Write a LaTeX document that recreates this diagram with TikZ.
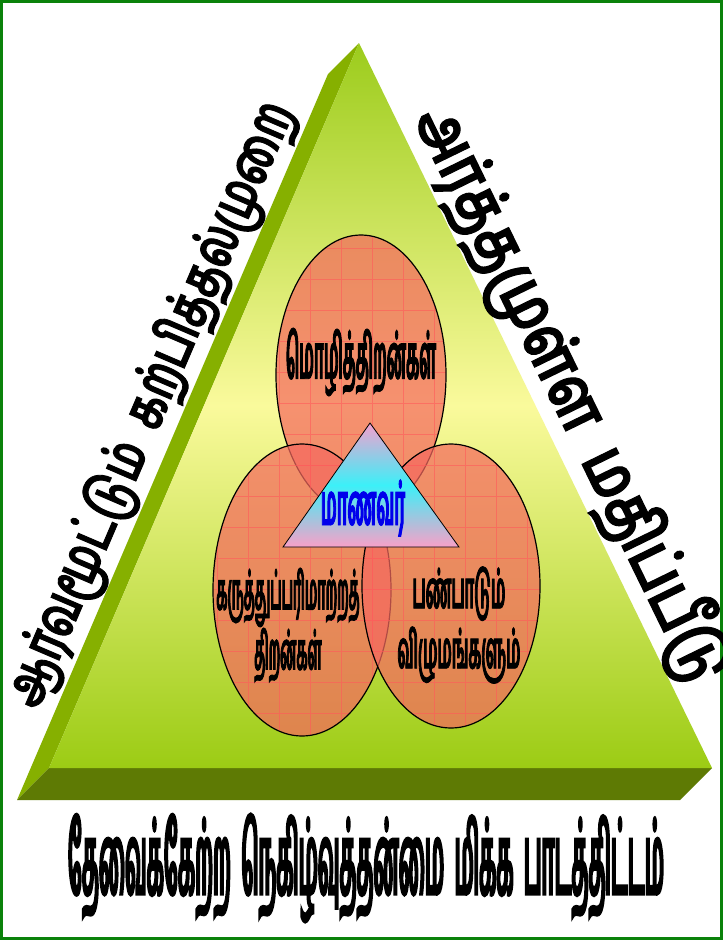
\documentclass[tikz,border=0pt]{standalone}
\usepackage{fontspec}
\newfontfamily\tamilbubble[Script=Tamil,FakeStretch=0.3,FakeBold=1.5]{Hind Madurai}
\newfontfamily\tamilnarrow[Script=Tamil,FakeStretch=0.26,FakeBold=1.5]{Hind Madurai}
\newfontfamily\tamilbase[Script=Tamil,FakeStretch=0.21,FakeBold=1.5]{Hind Madurai}
\newfontfamily\tamilside[Script=Tamil,FakeStretch=0.7,FakeBold=1.5]{Hind Madurai}
\newfontfamily\tamilwide[Script=Tamil,FakeStretch=0.8,FakeBold=1.5]{Hind Madurai}
\usetikzlibrary{positioning,calc}
\definecolor{framegreen}{RGB}{10,130,10}
\definecolor{pyrtop}{RGB}{156,204,28}
\definecolor{pyrmid}{RGB}{250,250,156}
\definecolor{pyrbot}{RGB}{156,204,20}
\definecolor{pyrside}{RGB}{134,176,0}
\definecolor{pyrbase}{RGB}{94,122,4}
\definecolor{ellred}{RGB}{245,105,95}
\definecolor{gridred}{RGB}{255,90,90}
\definecolor{tripink}{RGB}{244,160,208}
\definecolor{tricyan}{RGB}{60,240,248}
\definecolor{tribot}{RGB}{248,160,200}
\definecolor{pupilblue}{RGB}{0,0,235}

\begin{document}
\begin{tikzpicture}[x=1pt,y=-1pt,
 gridline/.style={gridred, line width=0.8pt, opacity=0.6},
 bubbletext/.style={font=\tamilbubble\bfseries\fontsize{52}{60}\selectfont, inner sep=0pt, align=center},
 sidetext/.style={font=\tamilside\bfseries\fontsize{57}{57}\selectfont, inner sep=0pt}]
 \useasboundingbox (0,0) rectangle (723,940);
 \fill[white] (0,0) rectangle (723,940);
 \draw[framegreen, line width=3pt] (1.5,1.5) rectangle (721.5,938.5);
 % pyramid: front face and the extruded side and base
 \coordinate (apex) at (359,43);
 \coordinate (fl) at (49,768);
 \coordinate (fr) at (712,768);
 \coordinate (apexb) at (328,74);
 \coordinate (flb) at (17,800);
 \coordinate (frb) at (680,800);
 \fill[pyrside] (apex) -- (apexb) -- (flb) -- (fl) -- cycle;
 \fill[pyrbase] (fl) -- (fr) -- (frb) -- (flb) -- cycle;
 \shade[top color=pyrtop, bottom color=pyrbot, middle color=pyrmid] (apex) -- (fl) -- (fr) -- cycle;
 % the three skills
 \coordinate (ctop) at (361,375);
 \coordinate (cleft) at (302,590);
 \coordinate (cright) at (451,586);
 \foreach \c/\rx/\ry in {ctop/85/140, cleft/89/146, cright/89/142} {
  \begin{scope}
   \clip (\c) ellipse [x radius=\rx pt, y radius=\ry pt];
   \fill[ellred, opacity=0.72] (\c) ellipse [x radius=\rx pt, y radius=\ry pt];
   \draw[gridline] (186,217) grid[step=31pt] (620,775);
  \end{scope}
  \draw[line width=1.2pt] (\c) ellipse [x radius=\rx pt, y radius=\ry pt];
 }
 % pupil in the middle
 \coordinate (ta) at (370,423);
 \coordinate (tl) at (283,547);
 \coordinate (tr) at (459,547);
 \shade[top color=tripink, bottom color=tribot, middle color=tricyan] (ta) -- (tl) -- (tr) -- cycle;
 \draw[line width=0.8pt] (ta) -- (tl) -- (tr) -- cycle;
 \node[bubbletext, text=pupilblue, font=\tamilbubble\bfseries\fontsize{58}{58}\selectfont] (pupil) at (363,508) {மாணவர்};
 \node[bubbletext, font=\tamilnarrow\bfseries\fontsize{62}{62}\selectfont] (lang) at (361,362) {மொழித்திறன்கள்};
 \node[bubbletext, font=\tamilnarrow\bfseries\fontsize{52}{60}\selectfont] (comm) at (288,625) {கருத்துப்பரிமாற்றத்\\திறன்கள்};
 \node[bubbletext] (culture) at (459,625) {பண்பாடும்\\விழுமங்களும்};
 % the three sides
 \node[sidetext, rotate=66.8] (teach) at (152,405) {ஆர்வமூட்டும்\ \ கற்பித்தல்முறை};
 \node[sidetext, rotate=-64, font=\tamilwide\bfseries\fontsize{67}{67}\selectfont] (assess) at (572,395) {அர்த்தமுள்ள\ \ மதிப்பீடு};
 \node[font=\tamilbase\bfseries\fontsize{100}{100}\selectfont, inner sep=0pt] (syllabus) at (366,868) {தேவைக்கேற்ற\ \ நெகிழ்வுத்தன்மை\ \ மிக்க\ \ பாடத்திட்டம்};
\end{tikzpicture}
\end{document}
